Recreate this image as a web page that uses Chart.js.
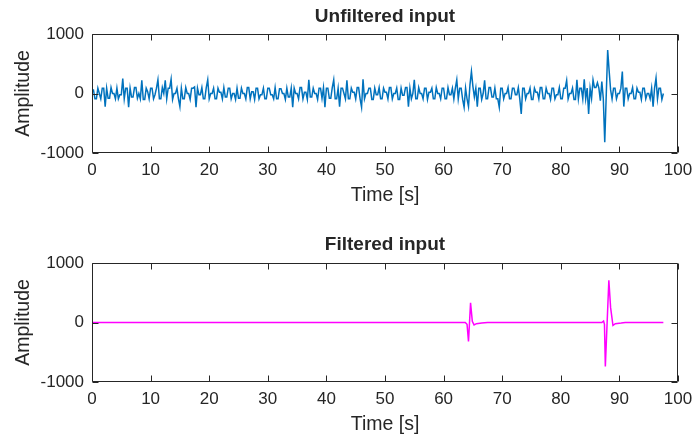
<!DOCTYPE html>
<html>
<head>
<meta charset="utf-8">
<script src="https://cdn.jsdelivr.net/npm/chart.js@4.4.0/dist/chart.umd.min.js"></script>
<style>
  html, body { margin: 0; padding: 0; background: #fff; }
  #wrap { position: relative; width: 693px; height: 438px; }
  .panel { position: absolute; left: 0; width: 693px; height: 209px; }
</style>
</head>
<body>
<div id="wrap">
  <div class="panel" style="top:0"><canvas id="rawChart" width="693" height="209"></canvas></div>
  <div class="panel" style="top:229px"><canvas id="filtChart" width="693" height="209"></canvas></div>
</div>
<script>
// raw signal, one sample every 0.25 s starting at t = 0
const rawStep = 0.25;
const rawValues = [
  60,60,-90,-90,90,0,-90,90,90,-220, 90,-80,-80,100,0,0,-90,90,-90,-20,
  -20,250,-90,90,90,-230,90,-60,-60,100, 100,-80,0,-90,220,-100,-100,90,30,-90,
  90,90,-90,-20,90,230,-90,-90,100,0, 220,-90,90,90,240,-100,0,0,90,-90,
  -220,90,-90,-90,100,0,0,-100,90,90, 110,-230,90,-20,-20,100,-90,-90,100,230,
  -90,0,0,90,-90,-90,90,20,20,-90, 100,-60,-60,90,90,-90,0,0,-100,90,
  -80,-80,90,0,0,-90,100,100,-90,30, 30,-100,90,90,-90,-20,-20,90,-90,-90,
  90,90,-20,-20,-90,100,-90,-90,80,80, 0,0,-100,90,-60,-60,90,-230,90,0,
  0,-90,100,100,-90,20,20,-100,230,-60, -60,90,0,0,-100,90,90,-80,100,-230,
  90,90,-80,-80,100,230,-90,-90,90,-220, 90,90,0,-90,220,-90,-90,90,20,20,
  -90,100,100,-90,-230,240,-90,0,0,90, 90,-100,-100,90,-20,-20,100,-90,-90,90,
  20,20,-90,100,100,-90,0,0,90,-100, -100,90,-30,-30,100,100,-220,90,-90,0,
  230,-90,-90,100,0,0,-90,90,90,-100, 20,20,90,-90,-90,100,0,0,-90,90,
  90,-90,-90,100,-20,-20,90,-90,90,230, -90,90,90,-100,-230,90,-90,-220,150,370,
  120,-60,90,-220,90,90,-100,0,220,-90, -90,100,100,-60,-60,90,-90,-90,-230,90,
  90,-90,0,0,100,-90,-90,90,90,-20, -20,100,-90,-345,90,90,-90,0,0,90,
  -100,-100,90,20,20,-90,100,100,-90,-90, 90,0,0,-100,90,90,-90,-20,-20,100,
  -90,-90,90,90,220,-90,0,0,90,-100, -100,230,-90,90,90,-90,240,-90,90,-345,
  90,-80,230,100,100,180,90,-120,200,-80, -820,-40,730,380,60,-90,90,90,-90,0,
  0,90,370,-220,90,90,-90,0,0,100, -90,-90,90,20,20,-100,90,90,-90,0,
  0,-90,90,-220,90,260,-90,90,90,-100,0
];

// filtered signal, read at its corners
const filtTimes = [0, 63.7, 64.0, 64.25, 64.6, 64.9, 65.2, 65.6, 66.5, 67.5,
  87.0, 87.3, 87.45, 87.6, 88.2, 88.5, 88.9, 89.3, 90.3, 91.0, 97.5];
const filtValues = [0, 0, -30, -320, 330, 20, -40, -20, -10, 0,
  0, 25, -30, -740, 710, 250, -50, -20, -10, 0, 0];

const xTicks = [0, 10, 20, 30, 40, 50, 60, 70, 80, 90, 100];
const yTicks = [-1000, 0, 1000];

const FONT = "'Liberation Sans', Arial, Helvetica, sans-serif";
const INK = "#262626";

// MATLAB style box with inward ticks on all four sides, title over the axes
const boxPlugin = {
  id: "matlabBox",
  afterDraw(chart, args, opts) {
    const { ctx, chartArea: a, scales: { x, y } } = chart;
    const L = Math.round(a.left) + 0.5, R = Math.round(a.right) - 0.5;
    const T = Math.round(a.top) + 0.5, B = Math.round(a.bottom) - 0.5;
    ctx.save();
    ctx.strokeStyle = INK;
    ctx.lineWidth = 1;
    ctx.beginPath();
    x.ticks.forEach((t) => {
      const px = Math.round(x.getPixelForValue(t.value)) + 0.5;
      ctx.moveTo(px, B); ctx.lineTo(px, B - 6);
      ctx.moveTo(px, T); ctx.lineTo(px, T + 6);
    });
    y.ticks.forEach((t) => {
      const py = Math.round(y.getPixelForValue(t.value)) + 0.5;
      ctx.moveTo(L, py); ctx.lineTo(L + 6, py);
      ctx.moveTo(R, py); ctx.lineTo(R - 6, py);
    });
    ctx.rect(L, T, R - L, B - T);
    ctx.stroke();

    ctx.fillStyle = INK;
    ctx.font = "bold 19px " + FONT;
    ctx.textAlign = "center";
    ctx.textBaseline = "middle";
    ctx.fillText(opts.text, (a.left + a.right) / 2, opts.y);
    ctx.restore();
  },
};

function makeOptions(title, titleY) {
  return {
    responsive: false,
    animation: false,
    layout: { padding: { left: 0, right: 15, top: 34, bottom: 0 } },
    plugins: {
      legend: { display: false },
      tooltip: { enabled: false },
      title: { display: false },
      matlabBox: { text: title, y: titleY },
    },
    scales: {
      x: {
        type: "linear",
        min: 0,
        max: 100,
        afterBuildTicks: (s) => { s.ticks = xTicks.map((v) => ({ value: v })); },
        afterFit: (s) => { s.height = 56; s.paddingLeft = 0; s.paddingRight = 0; },
        grid: { display: false, drawTicks: false },
        border: { display: false },
        ticks: { color: INK, padding: 7, font: { family: FONT, size: 17 }, callback: (v) => String(v) },
        title: {
          display: true,
          text: "Time [s]",
          color: INK,
          font: { family: FONT, size: 19.5 },
          padding: { top: 0, bottom: 1.5 },
        },
      },
      y: {
        min: -1000,
        max: 1000,
        afterBuildTicks: (s) => { s.ticks = yTicks.map((v) => ({ value: v })); },
        afterFit: (s) => { s.width = 92; s.paddingTop = 0; s.paddingBottom = 0; },
        grid: { display: false, drawTicks: false },
        border: { display: false },
        ticks: { color: INK, padding: 8, font: { family: FONT, size: 17 }, callback: (v) => String(v) },
        title: {
          display: true,
          text: "Amplitude",
          color: INK,
          font: { family: FONT, size: 19.5 },
          padding: { top: 12, bottom: 0 },
        },
      },
    },
  };
}

new Chart(document.getElementById("rawChart"), {
  type: "line",
  data: {
    datasets: [{
      data: rawValues.map((v, i) => ({ x: i * rawStep, y: v })),
      borderColor: "#0072BD",
      borderWidth: 1.5,
      pointRadius: 0,
      tension: 0,
    }],
  },
  options: makeOptions("Unfiltered input", 17),
  plugins: [boxPlugin],
});

new Chart(document.getElementById("filtChart"), {
  type: "line",
  data: {
    datasets: [{
      data: filtTimes.map((t, i) => ({ x: t, y: filtValues[i] })),
      borderColor: "#FF00FF",
      borderWidth: 1.5,
      pointRadius: 0,
      tension: 0,
    }],
  },
  options: makeOptions("Filtered input", 16),
  plugins: [boxPlugin],
});
</script>
</body>
</html>
